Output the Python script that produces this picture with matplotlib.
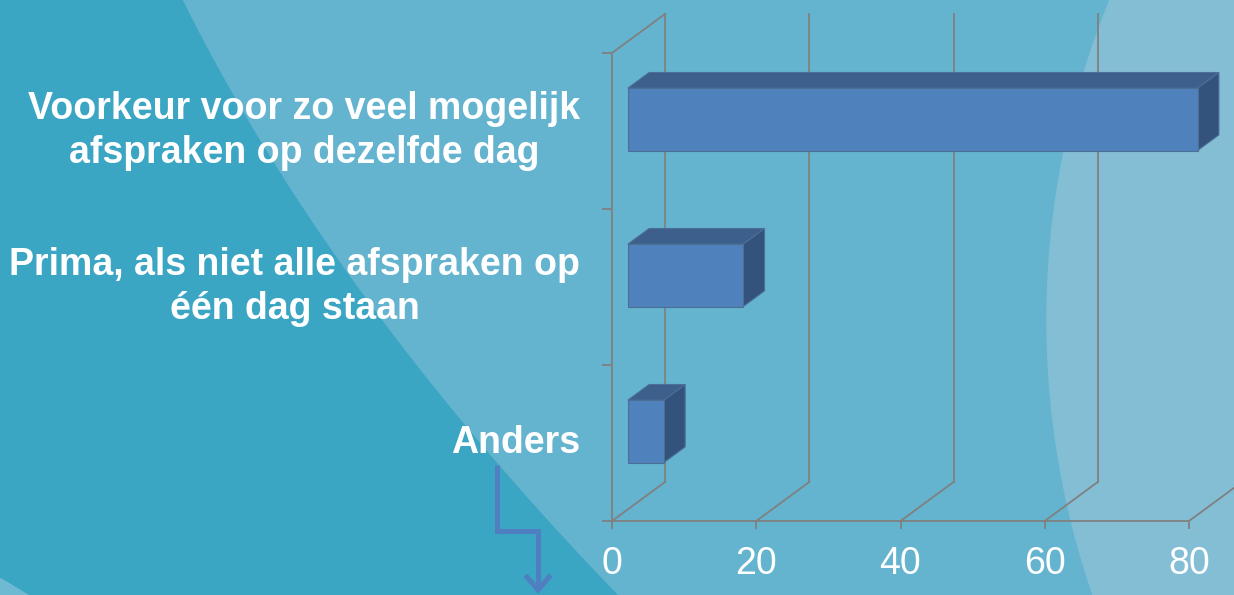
import matplotlib
matplotlib.use('Agg')
import matplotlib.pyplot as plt
from matplotlib.patches import Polygon, Circle
import numpy as np

plt.rcParams['font.family'] = ['Liberation Sans', 'DejaVu Sans']

# survey answers, top to bottom
categories = ['Voorkeur voor zo veel mogelijk\nafspraken op dezelfde dag',
              'Prima, als niet alle afspraken op\néén dag staan',
              'Anders']
values = [79, 16, 5]
xticks = [0, 20, 40, 60, 80]

GRID = '#808080'
FRONT = '#4f81bd'
TOP = '#3c5f8c'
SIDE = '#33537c'
EDGE = '#4d6f96'

W, H = 1234, 595
fig = plt.figure(figsize=(W / 100, H / 100), dpi=100)

# slide background in pixel units
bg = fig.add_axes([0, 0, 1, 1])
bg.set_xlim(0, W)
bg.set_ylim(H, 0)
bg.axis('off')
bg.add_patch(Polygon([(0, 0), (W, 0), (W, H), (0, H)], color='#64b4cf'))

ys = np.linspace(0, H, 80)
edge_x = 182 + 0.496 * ys + 0.000395 * ys ** 2
dark = [(0, 0)] + list(zip(edge_x, ys)) + [(0, H)]
bg.add_patch(Polygon(dark, color='#3ba5c4'))
bg.add_patch(Polygon([(0, 578), (0, H), (28, H)], color='#6fbad3'))
bg.add_patch(Circle((1891, 320), 844, color='#84bed5'))

# step arrow under the last label
bg.plot([497, 497, 538, 538], [465, 531, 531, 589], color='#4f7fc0', lw=3.6,
        solid_joinstyle='miter', solid_capstyle='butt')
bg.plot([527, 538, 549], [577, 590, 577], color='#4f7fc0', lw=3.6,
        solid_joinstyle='miter')

# chart, front plane of the 3d box
ax = fig.add_axes([612 / W, 1 - 521 / H, (1189 - 612) / W, (521 - 53) / H])
ax.patch.set_alpha(0)
ax.set_xlim(0, 80)
ax.set_ylim(-0.5, 2.5)

dx, dy = 7.35, 0.25   # depth of the box in data units
f0, f1 = 0.3, 0.7     # bar depth inside the box
half = 0.2

ypos = [2, 1, 0]

# back wall and floor lines
for x in xticks:
    ax.plot([x + dx, x + dx], [-0.5 + dy, 2.5 + dy], color=GRID, lw=1.3,
            clip_on=False, zorder=1)
    ax.plot([x, x + dx], [-0.5, -0.5 + dy], color=GRID, lw=1.3,
            clip_on=False, zorder=1)
ax.plot([0, dx], [2.5, 2.5 + dy], color=GRID, lw=1.3, clip_on=False, zorder=1)

# 3d bars
for y, v in zip(ypos, values):
    ox, oy = f0 * dx, f0 * dy
    ddx, ddy = (f1 - f0) * dx, (f1 - f0) * dy
    lo, hi = y - half + oy, y + half + oy
    front = [(ox, lo), (ox + v, lo), (ox + v, hi), (ox, hi)]
    top = [(ox, hi), (ox + v, hi), (ox + v + ddx, hi + ddy), (ox + ddx, hi + ddy)]
    side = [(ox + v, lo), (ox + v + ddx, lo + ddy), (ox + v + ddx, hi + ddy), (ox + v, hi)]
    for pts, c in [(top, TOP), (side, SIDE), (front, FRONT)]:
        ax.add_patch(Polygon(pts, closed=True, facecolor=c, edgecolor=EDGE,
                             lw=0.8, clip_on=False, zorder=3))

for s in ['top', 'right']:
    ax.spines[s].set_visible(False)
for s in ['left', 'bottom']:
    ax.spines[s].set_color(GRID)
    ax.spines[s].set_linewidth(1.3)

ax.set_xticks(xticks)
ax.tick_params(axis='x', length=6, width=1.3, color=GRID, labelcolor='white',
               labelsize=27, pad=12)

ax.set_yticks(ypos)
ax.set_yticklabels(categories, fontsize=27, fontweight='bold', color='white',
                   va='center', linespacing=1.32)
for lbl in ax.get_yticklabels():
    lbl.set_multialignment('center')
ax.set_yticks([-0.5, 0.5, 1.5, 2.5], minor=True)
ax.tick_params(axis='y', which='major', length=0, pad=23)
ax.tick_params(axis='y', which='minor', length=7, width=1.3, color=GRID)

fig.savefig('out.png', dpi=100)
